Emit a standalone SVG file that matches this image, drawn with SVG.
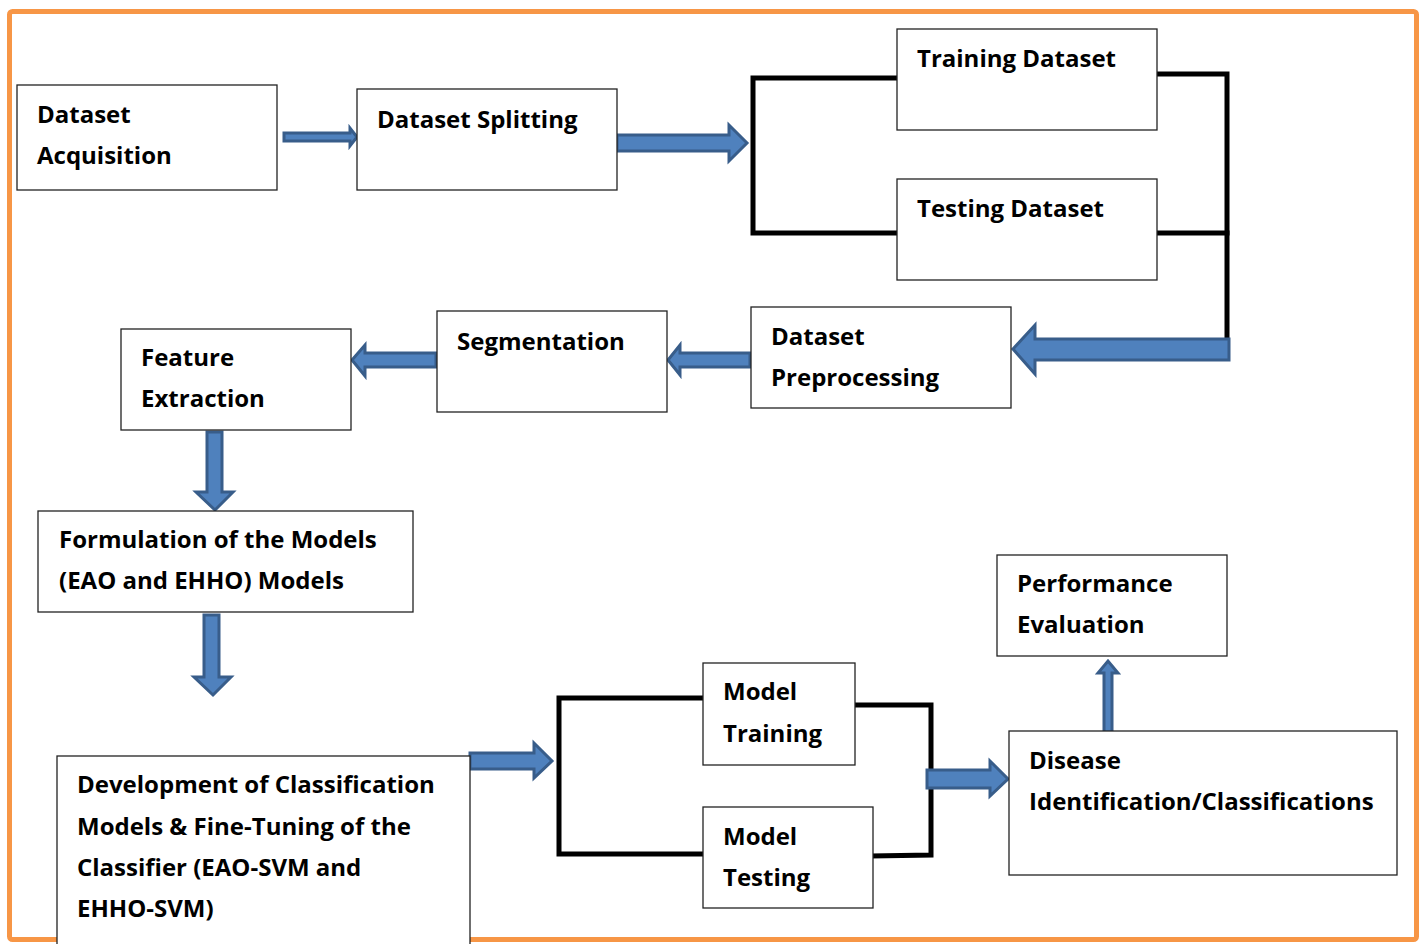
<svg xmlns="http://www.w3.org/2000/svg" width="1424" height="944" viewBox="0 0 1424 944">
  <style>
    .box { fill: #ffffff; stroke: #222222; stroke-width: 1.3; }
    .lbl { font-family: "Open Sans", "Liberation Sans", sans-serif; font-weight: bold; font-size: 24px; fill: #000000; }
    .blk { fill: #4F81BD; stroke: #385D8A; stroke-width: 3; stroke-linejoin: miter; }
    .brk { fill: none; stroke: #000000; stroke-width: 5; stroke-linecap: square; }
  </style>
  <rect width="1424" height="944" fill="#ffffff"/>
  <!-- outer frame -->
  <rect x="9.5" y="11.5" width="1407" height="928" rx="3" fill="none" stroke="#F79646" stroke-width="5"/>

  <!-- connectors: bracket lines and block arrows -->
  <g id="connectors">
    <polyline class="brk" points="897,78 753,78 753,233 897,233"/>
    <polyline class="brk" points="1157,74 1227,74 1227,347"/>
    <line class="brk" x1="1157" y1="233" x2="1227" y2="233"/>
    <polyline class="brk" points="703,698 559,698 559,854 703,854"/>
    <polyline class="brk" points="855,705 931,705 931,855 873,856"/>

    <!-- Acquisition -> Splitting -->
    <polygon class="blk" points="284,133 350,133 350,128 357,137 350,146 350,141 284,141"/>
    <!-- Splitting -> datasets -->
    <polygon class="blk" points="617,135 729,135 729,125 747,143 729,161 729,151 617,151"/>
    <!-- datasets -> Preprocessing -->
    <polygon class="blk" points="1229,339 1035,339 1035,325 1013,349 1035,374 1035,360 1229,360"/>
    <!-- Preprocessing -> Segmentation -->
    <polygon class="blk" points="750,353 680,353 680,345 668,360 680,375 680,367 750,367"/>
    <!-- Segmentation -> Feature Extraction -->
    <polygon class="blk" points="436,353 365,353 365,345 352,360 365,376 365,367 436,367"/>
    <!-- Feature Extraction -> Formulation -->
    <polygon class="blk" points="207,432 222,432 222,492 233,492 215,510 196,492 207,492"/>
    <!-- Formulation -> Development -->
    <polygon class="blk" points="204,615 219,615 219,677 231,677 213,695 194,677 204,677"/>
    <!-- Development -> model bracket -->
    <polygon class="blk" points="470,753 534,753 534,743 552,761 534,778 534,769 470,769"/>
    <!-- model bracket -> Disease -->
    <polygon class="blk" points="927,770 990,770 990,761 1008,779 990,796 990,788 927,788"/>
    <!-- Disease -> Performance -->
    <polygon class="blk" points="1104,733 1104,673 1098,673 1108,661 1118,673 1112,673 1112,733"/>
  </g>

  <g id="dataset-acquisition">
    <rect class="box" x="17" y="85" width="260" height="105"/>
    <text class="lbl" x="37" y="123">Dataset</text>
    <text class="lbl" x="37" y="164">Acquisition</text>
  </g>
  <g id="dataset-splitting">
    <rect class="box" x="357" y="89" width="260" height="101"/>
    <text class="lbl" x="377" y="128">Dataset Splitting</text>
  </g>
  <g id="training-dataset">
    <rect class="box" x="897" y="29" width="260" height="101"/>
    <text class="lbl" x="917" y="67">Training Dataset</text>
  </g>
  <g id="testing-dataset">
    <rect class="box" x="897" y="179" width="260" height="101"/>
    <text class="lbl" x="917" y="217">Testing Dataset</text>
  </g>
  <g id="dataset-preprocessing">
    <rect class="box" x="751" y="307" width="260" height="101"/>
    <text class="lbl" x="771" y="345">Dataset</text>
    <text class="lbl" x="771" y="386">Preprocessing</text>
  </g>
  <g id="segmentation">
    <rect class="box" x="437" y="311" width="230" height="101"/>
    <text class="lbl" x="457" y="350">Segmentation</text>
  </g>
  <g id="feature-extraction">
    <rect class="box" x="121" y="329" width="230" height="101"/>
    <text class="lbl" x="141" y="366">Feature</text>
    <text class="lbl" x="141" y="407">Extraction</text>
  </g>
  <g id="model-formulation">
    <rect class="box" x="38" y="511" width="375" height="101"/>
    <text class="lbl" x="59" y="548">Formulation of the Models</text>
    <text class="lbl" x="59" y="589">(EAO and EHHO) Models</text>
  </g>
  <g id="classifier-development">
    <rect class="box" x="57" y="756" width="413" height="200"/>
    <text class="lbl" x="77" y="793">Development of Classification</text>
    <text class="lbl" x="77" y="835">Models &amp; Fine-Tuning of the</text>
    <text class="lbl" x="77" y="876">Classifier (EAO-SVM and</text>
    <text class="lbl" x="77" y="917">EHHO-SVM)</text>
  </g>
  <g id="model-training">
    <rect class="box" x="703" y="663" width="152" height="102"/>
    <text class="lbl" x="723" y="700">Model</text>
    <text class="lbl" x="723" y="742">Training</text>
  </g>
  <g id="model-testing">
    <rect class="box" x="703" y="807" width="170" height="101"/>
    <text class="lbl" x="723" y="845">Model</text>
    <text class="lbl" x="723" y="886">Testing</text>
  </g>
  <g id="performance-evaluation">
    <rect class="box" x="997" y="555" width="230" height="101"/>
    <text class="lbl" x="1017" y="592">Performance</text>
    <text class="lbl" x="1017" y="633">Evaluation</text>
  </g>
  <g id="disease-identification">
    <rect class="box" x="1009" y="731" width="388" height="144"/>
    <text class="lbl" x="1029" y="769">Disease</text>
    <text class="lbl" x="1029" y="810">Identification/Classifications</text>
  </g>
</svg>
